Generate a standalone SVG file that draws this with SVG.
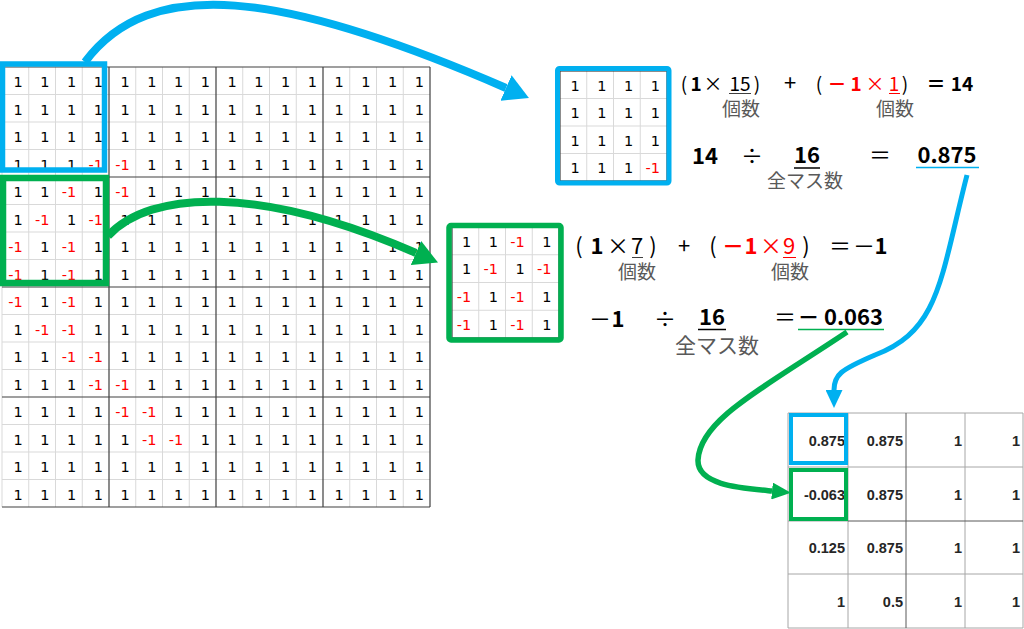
<svg xmlns="http://www.w3.org/2000/svg" xmlns:xlink="http://www.w3.org/1999/xlink" width="1024" height="629" viewBox="0 0 1024 629">
<style>
.c{font-family:"DejaVu Sans",sans-serif;font-size:14.5px;text-anchor:end;fill:#000}
.n{fill:#ff0000}
.lt{fill:none;stroke:#d9d9d9;stroke-width:1}
.dk{fill:none;stroke:#404040;stroke-width:1.2}
.f{font-family:"Noto Sans CJK JP",sans-serif;text-anchor:middle;fill:#000}
.b{font-weight:700}
.g{fill:#595959}
.r{fill:#ff0000}
.t{font-family:"Liberation Sans",Arial,sans-serif;font-size:14.5px;font-weight:700;text-anchor:end;fill:#262626}
.tl{fill:none;stroke:#a6a6a6;stroke-width:1}
.arr{fill:none;stroke-linecap:butt}
</style>
<defs>
<g id="ones4">
<text class="c" x="20.75" y="0">1</text><text class="c" x="47.5" y="0">1</text><text class="c" x="74.25" y="0">1</text><text class="c" x="101" y="0">1</text>
</g>
<g id="ones16">
<use xlink:href="#ones4" x="2"/><use xlink:href="#ones4" x="109"/><use xlink:href="#ones4" x="216"/><use xlink:href="#ones4" x="323"/>
</g>
<g id="ones12">
<use xlink:href="#ones4" x="109"/><use xlink:href="#ones4" x="216"/><use xlink:href="#ones4" x="323"/>
</g>
<g id="ones8">
<use xlink:href="#ones4" x="216"/><use xlink:href="#ones4" x="323"/>
</g>
<marker id="ahBlueL" viewBox="0 0 10 10" refX="0" refY="5" markerWidth="25" markerHeight="28" markerUnits="userSpaceOnUse" orient="auto" preserveAspectRatio="none"><path d="M0,0L10,5L0,10z" fill="#00b0f0"/></marker>
<marker id="ahGreenL" viewBox="0 0 10 10" refX="0" refY="5" markerWidth="24" markerHeight="26" markerUnits="userSpaceOnUse" orient="auto" preserveAspectRatio="none"><path d="M0,0L10,5L0,10z" fill="#00b050"/></marker>
<marker id="ahBlueS" viewBox="0 0 10 10" refX="0" refY="5" markerWidth="18" markerHeight="17" markerUnits="userSpaceOnUse" orient="auto" preserveAspectRatio="none"><path d="M0,0L10,5L0,10z" fill="#00b0f0"/></marker>
<marker id="ahGreenS" viewBox="0 0 10 10" refX="0" refY="5" markerWidth="19" markerHeight="17" markerUnits="userSpaceOnUse" orient="auto" preserveAspectRatio="none"><path d="M0,0L10,5L0,10z" fill="#00b050"/></marker>
</defs>
<rect width="1024" height="629" fill="#fff"/>

<g id="bigGrid">
<path class="lt" d="M28.75 67V507M55.5 67V507M82.25 67V507M135.75 67V507M162.5 67V507M189.25 67V507M242.75 67V507M269.5 67V507M296.25 67V507M349.75 67V507M376.5 67V507M403.25 67V507M2 94.5H430M2 122H430M2 149.5H430M2 204.5H430M2 232H430M2 259.5H430M2 314.5H430M2 342H430M2 369.5H430M2 424.5H430M2 452H430M2 479.5H430M2 67V507"/>
<path class="dk" d="M109 67V507M216 67V507M323 67V507M430 67V507M2 67H430M2 177H430M2 287H430M2 397H430M2 507H430"/>
<use xlink:href="#ones16" y="87"/>
<use xlink:href="#ones16" y="114.5"/>
<use xlink:href="#ones16" y="142"/>
<g transform="translate(0,169.5)"><text class="c" x="22.75" y="0">1</text><text class="c" x="49.5" y="0">1</text><text class="c" x="76.25" y="0">1</text><text class="c n" x="103" y="0">-1</text><text class="c n" x="129.75" y="0">-1</text><text class="c" x="156.5" y="0">1</text><text class="c" x="183.25" y="0">1</text><text class="c" x="210" y="0">1</text><use xlink:href="#ones8"/></g>
<g transform="translate(0,197)"><text class="c" x="22.75" y="0">1</text><text class="c" x="49.5" y="0">1</text><text class="c n" x="76.25" y="0">-1</text><text class="c" x="103" y="0">1</text><text class="c n" x="129.75" y="0">-1</text><text class="c" x="156.5" y="0">1</text><text class="c" x="183.25" y="0">1</text><text class="c" x="210" y="0">1</text><use xlink:href="#ones8"/></g>
<g transform="translate(0,224.5)"><text class="c" x="22.75" y="0">1</text><text class="c n" x="49.5" y="0">-1</text><text class="c" x="76.25" y="0">1</text><text class="c n" x="103" y="0">-1</text><use xlink:href="#ones12"/></g>
<g transform="translate(0,252)"><text class="c n" x="22.75" y="0">-1</text><text class="c" x="49.5" y="0">1</text><text class="c n" x="76.25" y="0">-1</text><text class="c" x="103" y="0">1</text><use xlink:href="#ones12"/></g>
<g transform="translate(0,279.5)"><text class="c n" x="22.75" y="0">-1</text><text class="c" x="49.5" y="0">1</text><text class="c n" x="76.25" y="0">-1</text><text class="c" x="103" y="0">1</text><use xlink:href="#ones12"/></g>
<g transform="translate(0,307)"><text class="c n" x="22.75" y="0">-1</text><text class="c" x="49.5" y="0">1</text><text class="c n" x="76.25" y="0">-1</text><text class="c" x="103" y="0">1</text><use xlink:href="#ones12"/></g>
<g transform="translate(0,334.5)"><text class="c" x="22.75" y="0">1</text><text class="c n" x="49.5" y="0">-1</text><text class="c n" x="76.25" y="0">-1</text><text class="c" x="103" y="0">1</text><use xlink:href="#ones12"/></g>
<g transform="translate(0,362)"><text class="c" x="22.75" y="0">1</text><text class="c" x="49.5" y="0">1</text><text class="c n" x="76.25" y="0">-1</text><text class="c n" x="103" y="0">-1</text><use xlink:href="#ones12"/></g>
<g transform="translate(0,389.5)"><text class="c" x="22.75" y="0">1</text><text class="c" x="49.5" y="0">1</text><text class="c" x="76.25" y="0">1</text><text class="c n" x="103" y="0">-1</text><text class="c n" x="129.75" y="0">-1</text><text class="c" x="156.5" y="0">1</text><text class="c" x="183.25" y="0">1</text><text class="c" x="210" y="0">1</text><use xlink:href="#ones8"/></g>
<g transform="translate(0,417)"><use xlink:href="#ones4" x="2"/><text class="c n" x="129.75" y="0">-1</text><text class="c n" x="156.5" y="0">-1</text><text class="c" x="183.25" y="0">1</text><text class="c" x="210" y="0">1</text><use xlink:href="#ones8"/></g>
<g transform="translate(0,444.5)"><use xlink:href="#ones4" x="2"/><text class="c" x="129.75" y="0">1</text><text class="c n" x="156.5" y="0">-1</text><text class="c n" x="183.25" y="0">-1</text><text class="c" x="210" y="0">1</text><use xlink:href="#ones8"/></g>
<use xlink:href="#ones16" y="472"/>
<use xlink:href="#ones16" y="499.5"/>
</g>

<g id="bigHighlightBlue"><rect x="2.5" y="64" width="102" height="106" fill="none" stroke="#00b0f0" stroke-width="5.5"/></g>
<g id="bigHighlightGreen"><rect x="3" y="178" width="103" height="105" fill="none" stroke="#00b050" stroke-width="6.5"/></g>

<g id="zoomBlue">
<rect x="560" y="71" width="107" height="110" fill="#fff"/>
<path class="lt" d="M586.75 71V181M613.5 71V181M640.25 71V181M560 98.5H667M560 126H667M560 153.5H667"/>
<rect x="560" y="71" width="107" height="110" class="dk"/>
<text class="c" x="579.75" y="90.5">1</text><text class="c" x="606.5" y="90.5">1</text><text class="c" x="633.25" y="90.5">1</text><text class="c" x="660" y="90.5">1</text>
<text class="c" x="579.75" y="118">1</text><text class="c" x="606.5" y="118">1</text><text class="c" x="633.25" y="118">1</text><text class="c" x="660" y="118">1</text>
<text class="c" x="579.75" y="145.5">1</text><text class="c" x="606.5" y="145.5">1</text><text class="c" x="633.25" y="145.5">1</text><text class="c" x="660" y="145.5">1</text>
<text class="c" x="579.75" y="173">1</text><text class="c" x="606.5" y="173">1</text><text class="c" x="633.25" y="173">1</text><text class="c n" x="660" y="173">-1</text>
<rect x="557.5" y="68.5" width="111.5" height="114.5" rx="2" fill="none" stroke="#00b0f0" stroke-width="5"/>
</g>

<g id="formulaBlue">
<text class="f" font-size="19" x="684" y="91">(</text>
<text class="f b" font-size="19" x="696" y="91">1</text>
<text class="f" font-size="19" x="713" y="91" fill="#404040">×</text>
<text class="f" font-size="19" x="740" y="91" fill="#404040">15</text>
<line x1="729" y1="93.5" x2="751" y2="93.5" stroke="#404040" stroke-width="1"/>
<text class="f" font-size="19" x="757" y="91">)</text>
<text class="f" font-size="22" x="790" y="91">+</text>
<text class="f" font-size="19" x="819" y="91">(</text>
<text class="f b r" font-size="19" x="837" y="91">－</text>
<text class="f b r" font-size="19" x="856" y="91">1</text>
<text class="f r" font-size="19" x="875" y="91">×</text>
<text class="f r" font-size="19" x="894" y="91">1</text>
<line x1="889" y1="93.5" x2="900" y2="93.5" stroke="#ff0000" stroke-width="1"/>
<text class="f" font-size="19" x="905" y="91">)</text>
<text class="f b" font-size="19" x="936" y="91">＝</text>
<text class="f b" font-size="19" x="962" y="91">14</text>
<text class="f g" font-size="19" x="741" y="116">個数</text>
<text class="f g" font-size="19" x="895" y="116">個数</text>
<text class="f b" font-size="22" x="705" y="164">14</text>
<text class="f" font-size="22" x="752" y="164">÷</text>
<text class="f b" font-size="22" x="807" y="163">16</text>
<line x1="794" y1="168" x2="820" y2="168" stroke="#000" stroke-width="1.5"/>
<text class="f g" font-size="19" x="805" y="188">全マス数</text>
<text class="f" font-size="22" x="880" y="163">＝</text>
<text class="f b" font-size="22" x="947" y="163" fill="#00b0f0">0.875</text>
<line x1="916" y1="167.5" x2="979" y2="167.5" stroke="#00b0f0" stroke-width="1.5"/>
</g>

<g id="zoomGreen">
<rect x="452" y="227" width="107" height="111" fill="#fff"/>
<path class="lt" d="M478.75 227V338M505.5 227V338M532.25 227V338M452 254.75H559M452 282.5H559M452 310.25H559"/>
<rect x="452" y="227" width="107" height="111" class="dk"/>
<text class="c" x="471.25" y="246.5">1</text><text class="c" x="498" y="246.5">1</text><text class="c n" x="524.75" y="246.5">-1</text><text class="c" x="551.5" y="246.5">1</text>
<text class="c" x="471.25" y="274.25">1</text><text class="c n" x="498" y="274.25">-1</text><text class="c" x="524.75" y="274.25">1</text><text class="c n" x="551.5" y="274.25">-1</text>
<text class="c n" x="471.25" y="302">-1</text><text class="c" x="498" y="302">1</text><text class="c n" x="524.75" y="302">-1</text><text class="c" x="551.5" y="302">1</text>
<text class="c n" x="471.25" y="329.75">-1</text><text class="c" x="498" y="329.75">1</text><text class="c n" x="524.75" y="329.75">-1</text><text class="c" x="551.5" y="329.75">1</text>
<rect x="449" y="225.5" width="112" height="114.5" rx="2" fill="none" stroke="#00b050" stroke-width="5.5"/>
</g>

<g id="formulaGreen">
<text class="f" font-size="22" x="579" y="254">(</text>
<text class="f b" font-size="22" x="597" y="254">1</text>
<text class="f" font-size="22" x="618" y="254" fill="#404040">×</text>
<text class="f" font-size="22" x="637" y="254" fill="#404040">7</text>
<line x1="632" y1="257.5" x2="643" y2="257.5" stroke="#404040" stroke-width="1"/>
<text class="f" font-size="22" x="653" y="254">)</text>
<text class="f" font-size="22" x="684" y="254">+</text>
<text class="f" font-size="22" x="713" y="254">(</text>
<text class="f b r" font-size="22" x="733" y="254">－</text>
<text class="f b r" font-size="22" x="751" y="254">1</text>
<text class="f r" font-size="22" x="771" y="254">×</text>
<text class="f r" font-size="22" x="789" y="254">9</text>
<line x1="783" y1="257.5" x2="796" y2="257.5" stroke="#ff0000" stroke-width="1"/>
<text class="f" font-size="22" x="806" y="254">)</text>
<text class="f" font-size="22" x="840" y="254">＝</text>
<text class="f" font-size="22" x="864" y="254">－</text>
<text class="f b" font-size="22" x="881" y="254">1</text>
<text class="f g" font-size="19" x="637" y="279">個数</text>
<text class="f g" font-size="19" x="790" y="279">個数</text>
<text class="f" font-size="22" x="600" y="327">－</text>
<text class="f b" font-size="22" x="618" y="327">1</text>
<text class="f" font-size="22" x="665" y="327">÷</text>
<text class="f b" font-size="22" x="712" y="325">16</text>
<line x1="698" y1="329.5" x2="726" y2="329.5" stroke="#000" stroke-width="1.5"/>
<text class="f g" font-size="21" x="717" y="353">全マス数</text>
<text class="f" font-size="22" x="785" y="325">＝</text>
<text class="f b" font-size="22" x="808.5" y="325" fill="#00b050">－</text>
<text class="f b" font-size="22" x="883" y="325" fill="#00b050" style="text-anchor:end">0.063</text>
<line x1="798" y1="329.5" x2="884" y2="329.5" stroke="#00b050" stroke-width="1.5"/>
</g>

<g id="resultTable">
<path class="tl" d="M788 413H1023M788 467H1023M788 521H848M788 574H1023M788 628H1023M788 413V628M848 413V628M965 413V628M1023 413V628"/>
<path d="M906 413V628M848 521H1023" fill="none" stroke="#595959" stroke-width="1"/>
<text class="t" x="845" y="445.5">0.875</text><text class="t" x="903" y="445.5">0.875</text><text class="t" x="962" y="445.5">1</text><text class="t" x="1020" y="445.5">1</text>
<text class="t" x="845" y="499.5">-0.063</text><text class="t" x="903" y="499.5">0.875</text><text class="t" x="962" y="499.5">1</text><text class="t" x="1020" y="499.5">1</text>
<text class="t" x="845" y="553">0.125</text><text class="t" x="903" y="553">0.875</text><text class="t" x="962" y="553">1</text><text class="t" x="1020" y="553">1</text>
<text class="t" x="845" y="606.5">1</text><text class="t" x="903" y="606.5">0.5</text><text class="t" x="962" y="606.5">1</text><text class="t" x="1020" y="606.5">1</text>
<rect x="791" y="415" width="55" height="48" fill="none" stroke="#00b0f0" stroke-width="4"/>
<rect x="791" y="470" width="55" height="49" fill="none" stroke="#00b050" stroke-width="4"/>
</g>

<g id="connectors">
<path class="arr" d="M85 62C150 -25 280 -10 506 88" stroke="#00b0f0" stroke-width="8" marker-end="url(#ahBlueL)"/>
<path class="arr" d="M108 236C150 190 260 185 416 253" stroke="#00b050" stroke-width="8" marker-end="url(#ahGreenL)"/>
<path class="arr" d="M967 175C940 280 940 330 875 355C840 370 834 375 834 390" stroke="#00b0f0" stroke-width="5" marker-end="url(#ahBlueS)"/>
<path class="arr" d="M847 332C760 390 700 420 698 460C697 485 740 488 772 491" stroke="#00b050" stroke-width="5.5" marker-end="url(#ahGreenS)"/>
</g>
</svg>
